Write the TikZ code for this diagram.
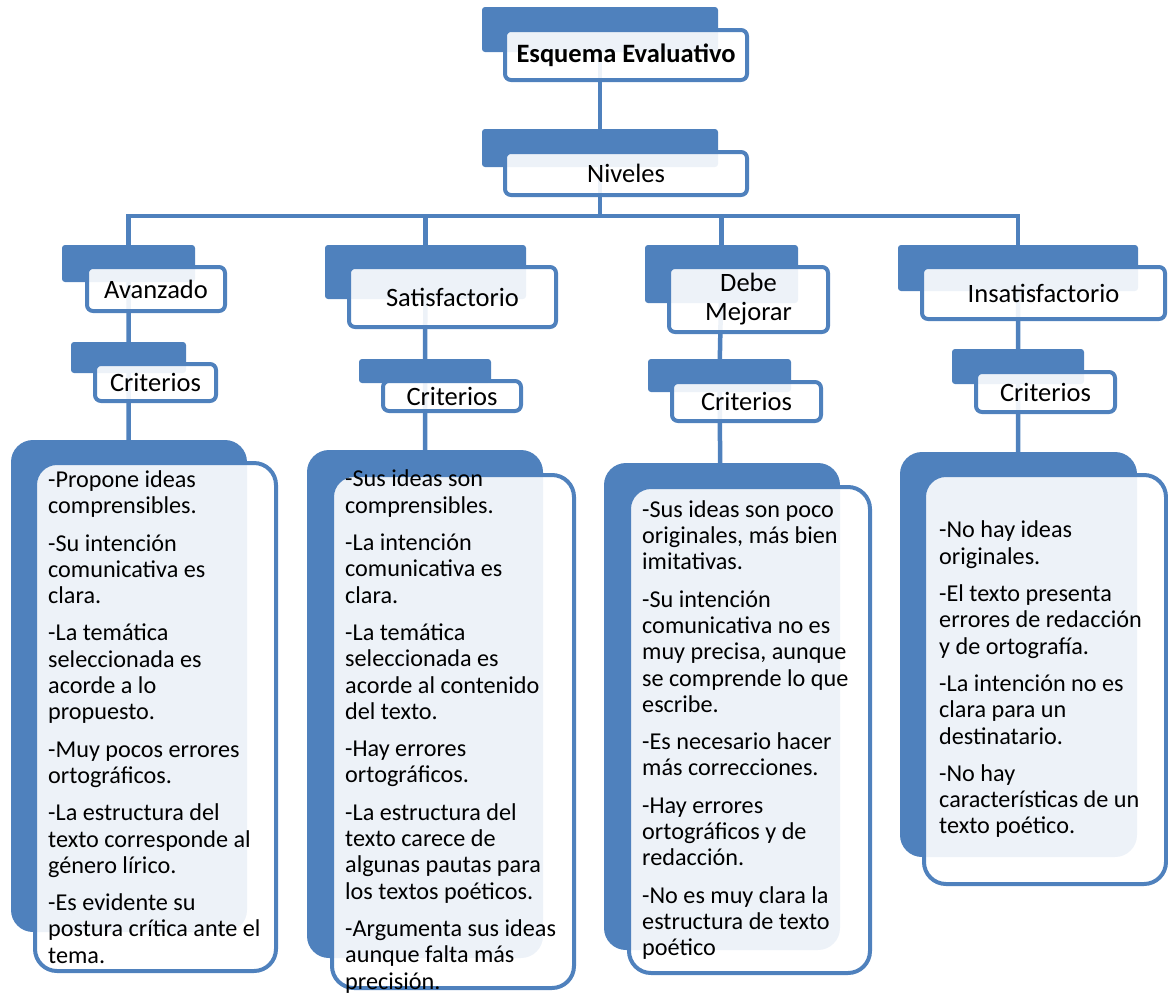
\documentclass[tikz,border=0pt]{standalone}
\usepackage{fontspec}
\setmainfont{Carlito}
\usetikzlibrary{backgrounds}
\definecolor{esqblue}{HTML}{4F81BD}
\tikzset{
  backbox/.style={rectangle, rounded corners=3pt, fill=esqblue, draw=none, inner sep=0pt},
  frontbox/.style={rectangle, rounded corners=6pt, draw=esqblue, line width=4pt, fill=white,
    fill opacity=0.9, text opacity=1, inner sep=0pt, align=center, font=\fontsize{26.5}{29}\selectfont},
  bigback/.style={backbox, rounded corners=22pt},
  bigfront/.style={frontbox, rounded corners=22pt},
  crittext/.style={anchor=west, align=left, inner sep=0pt, font=\fontsize{24.2}{26.3}\selectfont},
  link/.style={draw=esqblue, line width=4.5pt}
}
\begin{document}
\begin{tikzpicture}[x=1pt,y=-1pt]
  \useasboundingbox (0,0) rectangle (1168,994);

  % titulo y niveles
  \node[backbox, minimum width=236pt, minimum height=45pt] (esqB) at (600,29.5) {};
  \node[frontbox, minimum width=242pt, minimum height=50pt, font=\fontsize{26.5}{29}\selectfont\bfseries] (esq) at (626,55) {Esquema Evaluativo};
  \node[backbox, minimum width=236pt, minimum height=38pt] (nivB) at (600,148) {};
  \node[frontbox, minimum width=242pt, minimum height=43pt] (niv) at (626,173.5) {Niveles};
  \coordinate (bar) at (600,216);

  % niveles
  \node[backbox, minimum width=133pt, minimum height=37pt] (avB) at (128.5,263.5) {};
  \node[frontbox, minimum width=138pt, minimum height=44pt] (av) at (156,289) {Avanzado};
  \node[backbox, minimum width=201pt, minimum height=54pt] (satB) at (425.5,272) {};
  \node[frontbox, minimum width=207pt, minimum height=60pt] (sat) at (452.5,297) {Satisfactorio};
  \node[backbox, minimum width=153pt, minimum height=58pt] (debB) at (721.5,274) {};
  \node[frontbox, minimum width=159pt, minimum height=65pt] (deb) at (748.5,299.5) {Debe\\Mejorar};
  \node[backbox, minimum width=240pt, minimum height=46pt] (insB) at (1018,268) {};
  \node[frontbox, minimum width=243pt, minimum height=52pt] (ins) at (1043.5,293) {Insatisfactorio};

  % criterios
  \node[backbox, minimum width=115pt, minimum height=31pt] (critAvB) at (128.5,357.5) {};
  \node[frontbox, minimum width=121pt, minimum height=37pt] (critAv) at (155.5,382.5) {Criterios};
  \node[backbox, minimum width=132pt, minimum height=24pt] (critSatB) at (425,371) {};
  \node[frontbox, minimum width=138pt, minimum height=30pt] (critSat) at (452,396) {Criterios};
  \node[backbox, minimum width=143pt, minimum height=33pt] (critDebB) at (719.5,375.5) {};
  \node[frontbox, minimum width=149pt, minimum height=39pt] (critDeb) at (746.5,401.5) {Criterios};
  \node[backbox, minimum width=132pt, minimum height=35pt] (critInsB) at (1018,366.5) {};
  \node[frontbox, minimum width=139pt, minimum height=40pt] (critIns) at (1045.5,392) {Criterios};

  % cajas de descripcion
  \node[bigback, minimum width=236pt, minimum height=492pt] (avBigB) at (129,686) {};
  \node[bigfront, minimum width=241pt, minimum height=508pt] (avBig) at (155.5,717) {};
  \node[bigback, minimum width=236pt, minimum height=508pt] (satBigB) at (425,704) {};
  \node[bigfront, minimum width=242pt, minimum height=513pt] (satBig) at (453,731.5) {};
  \node[bigback, minimum width=236pt, minimum height=487pt] (debBigB) at (722,706.5) {};
  \node[bigfront, minimum width=241pt, minimum height=486pt] (debBig) at (749.5,730) {};
  \node[bigback, minimum width=237pt, minimum height=405pt] (insBigB) at (1018.5,654.5) {};
  \node[bigfront, minimum width=242pt, minimum height=409pt] (insBig) at (1045,679.5) {};

  \node[crittext] (avTxt) at ([xshift=15pt]avBig.west) {-Propone ideas\\comprensibles.\\[11pt]
    -Su intención\\comunicativa es\\clara.\\[11pt]
    -La temática\\seleccionada es\\acorde a lo\\propuesto.\\[11pt]
    -Muy pocos errores\\ortográficos.\\[11pt]
    -La estructura del\\texto corresponde al\\género lírico.\\[11pt]
    -Es evidente su\\postura crítica ante el\\tema.};
  \node[crittext] (satTxt) at ([xshift=15pt]satBig.west) {-Sus ideas son\\comprensibles.\\[11pt]
    -La intención\\comunicativa es\\clara.\\[11pt]
    -La temática\\seleccionada es\\acorde al contenido\\del texto.\\[11pt]
    -Hay errores\\ortográficos.\\[11pt]
    -La estructura del\\texto carece de\\algunas pautas para\\los textos poéticos.\\[11pt]
    -Argumenta sus ideas\\aunque falta más\\precisión.};
  \node[crittext] (debTxt) at ([xshift=15pt]debBig.west) {-Sus ideas son poco\\originales, más bien\\imitativas.\\[11pt]
    -Su intención\\comunicativa no es\\muy precisa, aunque\\se comprende lo que\\escribe.\\[11pt]
    -Es necesario hacer\\más correcciones.\\[11pt]
    -Hay errores\\ortográficos y de\\redacción.\\[11pt]
    -No es muy clara la\\estructura de texto\\poético};
  \node[crittext] (insTxt) at ([xshift=17pt]insBig.west) {-No hay ideas\\originales.\\[11pt]
    -El texto presenta\\errores de redacción\\y de ortografía.\\[11pt]
    -La intención no es\\clara para un\\destinatario.\\[11pt]
    -No hay\\características de un\\texto poético.};

  % conectores
  \begin{pgfonlayer}{background}
    \draw[link] (esqB.center) -- (nivB.center) -- (bar);
    \draw[link] (avB.center) |- (bar);
    \draw[link] (satB.center) |- (bar);
    \draw[link] (debB.center) |- (bar);
    \draw[link] (insB.center) |- (bar);
    \draw[link] (avB.center) -- (critAvB.center) -- (avBigB.center);
    \draw[link] (satB.center) -- (critSatB.center) -- (satBigB.center);
    \draw[link] (debB.center) -- (critDebB.center) -- (debBigB.center);
    \draw[link] (insB.center) -- (critInsB.center) -- (insBigB.center);
  \end{pgfonlayer}
\end{tikzpicture}
\end{document}
